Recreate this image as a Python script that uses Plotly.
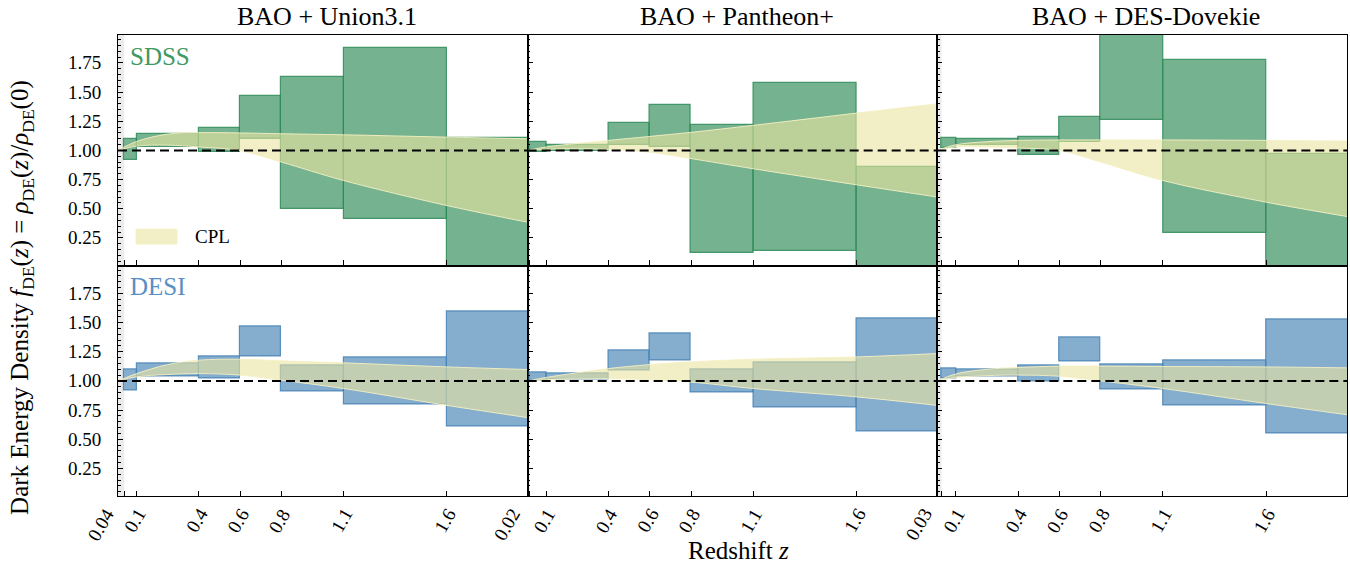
import plotly.graph_objects as go
from plotly.subplots import make_subplots

# ---------------- data ----------------
COLUMN_TITLES = ["BAO + Union3.1", "BAO + Pantheon+", "BAO + DES-Dovekie"]
ROW_LABELS = ["SDSS", "DESI"]
Z_MIN = [0.04, 0.02, 0.03]                       # lowest SN redshift per sample
Z_MIN_LABELS = ["0.04", "0.02", "0.03"]
BIN_EDGES_INNER = [0.1, 0.4, 0.6, 0.8, 1.1, 1.6]
Z_LAST_EDGE = 2.5
TICK_Z = [0.1, 0.4, 0.6, 0.8, 1.1, 1.6]
TICK_Z_LABELS = ["0.1", "0.4", "0.6", "0.8", "1.1", "1.6"]
Y_TICKS = [0.25, 0.5, 0.75, 1.0, 1.25, 1.5, 1.75]
Y_TICK_LABELS = ["0.25", "0.50", "0.75", "1.00", "1.25", "1.50", "1.75"]
REF_LEVEL = 1.0
X_RANGE = [0.01, 1.99]
Y_RANGE = [0.013, 1.99]

# binned f_DE bands (lower, upper) per bin
SDSS_UNION_LO = [0.92, 1.03, 0.99, 1.095, 0.50, 0.415, -0.5]
SDSS_UNION_HI = [1.095, 1.14, 1.19, 1.47, 1.63, 1.88, 1.105]
SDSS_PANTHEON_LO = [0.99, 0.995, 1.05, 1.03, 0.12, 0.14, -0.5]
SDSS_PANTHEON_HI = [1.07, 1.045, 1.235, 1.39, 1.22, 1.58, 0.86]
SDSS_DES_LO = [1.02, 1.05, 0.965, 1.07, 1.26, 0.295, -0.5]
SDSS_DES_HI = [1.11, 1.095, 1.115, 1.29, 2.5, 1.775, 0.97]

DESI_UNION_LO = [0.92, 1.04, 1.025, 1.21, 0.91, 0.80, 0.61]
DESI_UNION_HI = [1.098, 1.15, 1.21, 1.467, 1.13, 1.20, 1.593]
DESI_PANTHEON_LO = [1.0, 1.01, 1.09, 1.178, 0.897, 0.77, 0.562]
DESI_PANTHEON_HI = [1.07, 1.06, 1.26, 1.407, 1.098, 1.16, 1.533]
DESI_DES_LO = [1.02, 1.04, 0.995, 1.163, 0.93, 0.785, 0.548]
DESI_DES_HI = [1.11, 1.098, 1.13, 1.373, 1.138, 1.178, 1.527]

# CPL band (upper, lower) sampled in z
CPL_Z = [0.01, 0.1, 0.25, 0.4, 0.6, 0.8, 1.1, 1.6, 1.99]
CPL_SDSS_UNION_UP = [1.0, 1.077, 1.14, 1.152, 1.15, 1.143, 1.134, 1.114, 1.10]
CPL_SDSS_UNION_LO = [1.0, 1.037, 1.045, 1.03, 0.998, 0.90, 0.742, 0.527, 0.384]
CPL_SDSS_PANTHEON_UP = [1.0, 1.03, 1.06, 1.086, 1.12, 1.155, 1.215, 1.32, 1.40]
CPL_SDSS_PANTHEON_LO = [1.0, 1.01, 1.015, 1.008, 0.985, 0.93, 0.843, 0.705, 0.60]
CPL_SDSS_DES_UP = [1.0, 1.049, 1.075, 1.086, 1.09, 1.09, 1.09, 1.086, 1.08]
CPL_SDSS_DES_LO = [1.0, 1.03, 1.03, 1.02, 1.0, 0.90, 0.742, 0.556, 0.433]
CPL_DESI_UNION_UP = [1.0, 1.063, 1.14, 1.178, 1.186, 1.172, 1.155, 1.12, 1.098]
CPL_DESI_UNION_LO = [1.0, 1.035, 1.055, 1.063, 1.05, 1.006, 0.935, 0.79, 0.685]
CPL_DESI_PANTHEON_UP = [1.0, 1.03, 1.07, 1.106, 1.14, 1.163, 1.186, 1.206, 1.235]
CPL_DESI_PANTHEON_LO = [1.0, 1.01, 1.018, 1.02, 1.01, 0.99, 0.935, 0.863, 0.79]
CPL_DESI_DES_UP = [1.0, 1.06, 1.10, 1.115, 1.127, 1.127, 1.124, 1.12, 1.112]
CPL_DESI_DES_LO = [1.0, 1.03, 1.045, 1.05, 1.04, 1.0, 0.935, 0.806, 0.71]

BINS = [
    [(SDSS_UNION_LO, SDSS_UNION_HI), (SDSS_PANTHEON_LO, SDSS_PANTHEON_HI), (SDSS_DES_LO, SDSS_DES_HI)],
    [(DESI_UNION_LO, DESI_UNION_HI), (DESI_PANTHEON_LO, DESI_PANTHEON_HI), (DESI_DES_LO, DESI_DES_HI)],
]
CPL = [
    [(CPL_SDSS_UNION_LO, CPL_SDSS_UNION_UP), (CPL_SDSS_PANTHEON_LO, CPL_SDSS_PANTHEON_UP), (CPL_SDSS_DES_LO, CPL_SDSS_DES_UP)],
    [(CPL_DESI_UNION_LO, CPL_DESI_UNION_UP), (CPL_DESI_PANTHEON_LO, CPL_DESI_PANTHEON_UP), (CPL_DESI_DES_LO, CPL_DESI_DES_UP)],
]

# ---------------- style ----------------
FONT = "Liberation Serif"
ROW_FILL = ["rgba(46,139,87,0.66)", "rgba(70,130,180,0.66)"]
ROW_EDGE = ["rgba(46,139,87,0.85)", "rgba(70,130,180,0.85)"]
ROW_TEXT = ["#3f9963", "#5a8fc4"]
CPL_FILL = "rgba(234,229,160,0.6)"
CPL_EDGE = "rgba(245,240,195,0.9)"
TICK_FONT = dict(family=FONT, size=19, color="black")

fig = make_subplots(rows=2, cols=3, horizontal_spacing=0, vertical_spacing=0)

for r in range(2):
    for c in range(3):
        edges = [Z_MIN[c]] + BIN_EDGES_INNER + [Z_LAST_EDGE]
        lo, hi = BINS[r][c]
        centers = [(edges[i] + edges[i + 1]) / 2 for i in range(len(lo))]
        widths = [edges[i + 1] - edges[i] for i in range(len(lo))]
        fig.add_trace(go.Bar(
            x=centers, y=[h - l for l, h in zip(lo, hi)], base=lo, width=widths,
            marker=dict(color=ROW_FILL[r], line=dict(color=ROW_EDGE[r], width=1.2)),
            showlegend=False, hoverinfo="skip"), row=r + 1, col=c + 1)
        clo, cup = CPL[r][c]
        fig.add_trace(go.Scatter(
            x=CPL_Z, y=clo, mode="lines", line=dict(color=CPL_EDGE, width=1, shape="spline"),
            showlegend=False, hoverinfo="skip"), row=r + 1, col=c + 1)
        fig.add_trace(go.Scatter(
            x=CPL_Z, y=cup, mode="lines", fill="tonexty", fillcolor=CPL_FILL,
            line=dict(color=CPL_EDGE, width=1, shape="spline"),
            name="CPL", showlegend=False, hoverinfo="skip"), row=r + 1, col=c + 1)

        k = r * 3 + c + 1
        xr = "x" if k == 1 else f"x{k}"
        yr = "y" if k == 1 else f"y{k}"
        # low-z excluded strip
        fig.add_shape(type="rect", xref=xr, yref=f"{yr} domain", x0=X_RANGE[0], x1=Z_MIN[c],
                      y0=0, y1=1, fillcolor="#ececec", line=dict(width=0), layer="below")
        # reference line
        fig.add_shape(type="line", xref=f"{xr} domain", yref=yr, x0=0, x1=1, y0=REF_LEVEL, y1=REF_LEVEL,
                      line=dict(color="black", width=2, dash="9px,5px"), layer="above")

        fig.update_xaxes(
            row=r + 1, col=c + 1, range=X_RANGE, showgrid=False, zeroline=False,
            showline=True, mirror=True, linecolor="black", linewidth=1.3,
            ticks="inside", ticklen=5, tickwidth=1, tickcolor="black",
            tickvals=[Z_MIN[c]] + TICK_Z, showticklabels=False)
        fig.update_yaxes(
            row=r + 1, col=c + 1, range=Y_RANGE, showgrid=False, zeroline=False,
            showline=True, mirror=True, linecolor="black", linewidth=1.3,
            ticks="inside", ticklen=5, tickwidth=1, tickcolor="black",
            tickvals=Y_TICKS, showticklabels=False,
            minor=dict(ticks="inside", ticklen=2.5, tickwidth=0.8, tickcolor="black", dtick=0.05, tick0=0))

        # y tick labels on the left column
        if c == 0:
            for yv, yl in zip(Y_TICKS, Y_TICK_LABELS):
                fig.add_annotation(text=yl, xref="paper", yref=yr, x=0, y=yv, xshift=-15,
                                   showarrow=False, xanchor="right", yanchor="middle", font=TICK_FONT)

        # rotated x tick labels on the bottom row
        if r == 1:
            fig.add_annotation(text=Z_MIN_LABELS[c], xref=xr, yref="paper", x=Z_MIN[c], y=0,
                               yshift=-6, xshift=-3, textangle=-60, showarrow=False,
                               xanchor="right", yanchor="top", font=TICK_FONT)
            for zv, zl in zip(TICK_Z, TICK_Z_LABELS):
                fig.add_annotation(text=zl, xref=xr, yref="paper", x=zv, y=0,
                                   yshift=-6, xshift=-2, textangle=-60, showarrow=False,
                                   xanchor="center", yanchor="top", font=TICK_FONT)

# column titles
for c, t in enumerate(COLUMN_TITLES):
    fig.add_annotation(text=t, xref="paper", yref="paper", x=(c + 0.5) / 3, y=1.0, yshift=19,
                       xshift=4, showarrow=False, xanchor="center", yanchor="middle",
                       font=dict(family=FONT, size=26, color="black"))

# row labels
fig.add_annotation(text=ROW_LABELS[0], xref="x domain", yref="y domain", x=0.025, y=0.905,
                   showarrow=False, xanchor="left", yanchor="middle",
                   font=dict(family=FONT, size=25, color=ROW_TEXT[0]))
fig.add_annotation(text=ROW_LABELS[1], xref="x4 domain", yref="y4 domain", x=0.025, y=0.908,
                   showarrow=False, xanchor="left", yanchor="middle",
                   font=dict(family=FONT, size=25, color=ROW_TEXT[1]))

# CPL legend (top-left panel)
fig.add_shape(type="rect", xref="x domain", yref="y domain", x0=0.044, x1=0.144, y0=0.093, y1=0.158,
              fillcolor=CPL_FILL, line=dict(color=CPL_EDGE, width=1))
fig.add_annotation(text="CPL", xref="x domain", yref="y domain", x=0.183, y=0.125,
                   showarrow=False, xanchor="left", yanchor="middle",
                   font=dict(family=FONT, size=19, color="black"))

# axis titles
fig.add_annotation(text="Redshift <i>z</i>", xref="paper", yref="paper", x=0.505, y=-0.118,
                   showarrow=False, xanchor="center", yanchor="middle",
                   font=dict(family=FONT, size=25, color="black"))
fig.add_annotation(
    text="Dark Energy Density <i>f</i><sub>DE</sub>(<i>z</i>) = <i>ρ</i><sub>DE</sub>(<i>z</i>)/<i>ρ</i><sub>DE</sub>(0)",
    xref="paper", yref="paper", x=-0.078, y=0.43, textangle=-90,
    showarrow=False, xanchor="center", yanchor="middle",
    font=dict(family=FONT, size=25, color="black"))

fig.update_layout(
    width=1350, height=563, margin=dict(l=118, r=3, t=35, b=67),
    plot_bgcolor="white", paper_bgcolor="white", barmode="overlay", bargap=0,
    showlegend=False)

fig.write_html("out.html")
